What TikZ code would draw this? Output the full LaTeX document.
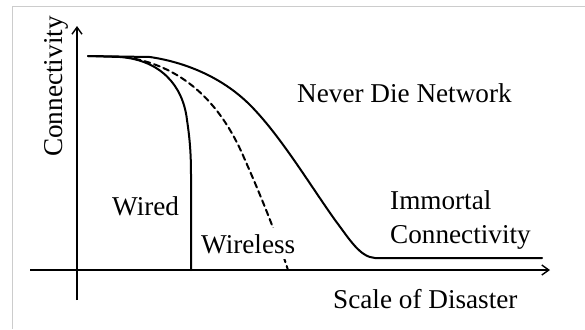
\documentclass[tikz,border=0pt]{standalone}
\usepackage{fontspec}
\setmainfont{Liberation Serif}
\usetikzlibrary{arrows.meta}
\begin{document}
\begin{tikzpicture}[x=1bp,y=-1bp,
  axis/.style={line width=1.4bp,-{Straight Barb[length=7bp,width=10bp]}},
  curve/.style={line width=2bp,line cap=round,line join=round},
  lbl/.style={font=\fontsize{27.3}{30}\selectfont,inner sep=0pt},
  frameline/.style={draw=black!20,line width=1bp}]
\useasboundingbox (0,0) rectangle (585,329);
% light frame
\coordinate (fbl) at (12,329);
\coordinate (ftl) at (12,6);
\coordinate (ftr) at (585,6);
\draw[frameline] (fbl) -- (ftl) -- (ftr);
% axes
\coordinate (ybot) at (77,300);
\coordinate (ytop) at (77,26);
\coordinate (xleft) at (30,270);
\coordinate (xright) at (550,270);
\draw[axis] (ybot) -- (ytop);
\draw[axis] (xleft) -- (xright);
% curves
\coordinate (start) at (88,56);
\draw[curve] (start) -- (120,57) .. controls (160,60) and (183,85) .. (187,120)
  .. controls (190,140) and (191,155) .. (191,175) -- (191,270);
\draw[curve,dashed,dash pattern=on 6bp off 4bp] (125,57) .. controls (180,65) and (220,100) .. (245,160)
  .. controls (265,205) and (280,245) .. (288,270);
\draw[curve] (start) -- (150,57) .. controls (190,63) and (225,80) .. (250,105)
  .. controls (280,135) and (310,185) .. (335,220)
  .. controls (350,240) and (360,257) .. (375,258) -- (542,258);
% labels
\node[lbl,rotate=90,anchor=base west] (conn) at (62,157) {Connectivity};
\node[lbl,anchor=base west] (never) at (297,102) {Never Die Network};
\node[lbl,anchor=base west] (wired) at (112,215) {Wired};
\node[lbl,anchor=base west,fill=white,inner xsep=2bp,inner ysep=6bp] (wireless) at (199,253) {Wireless};
\node[lbl,anchor=base west] (immortal) at (390,209) {Immortal};
\node[lbl,anchor=base west] (immconn) at (390,243) {Connectivity};
\node[lbl,anchor=base west] (scale) at (333,308) {Scale of Disaster};
\end{tikzpicture}
\end{document}
